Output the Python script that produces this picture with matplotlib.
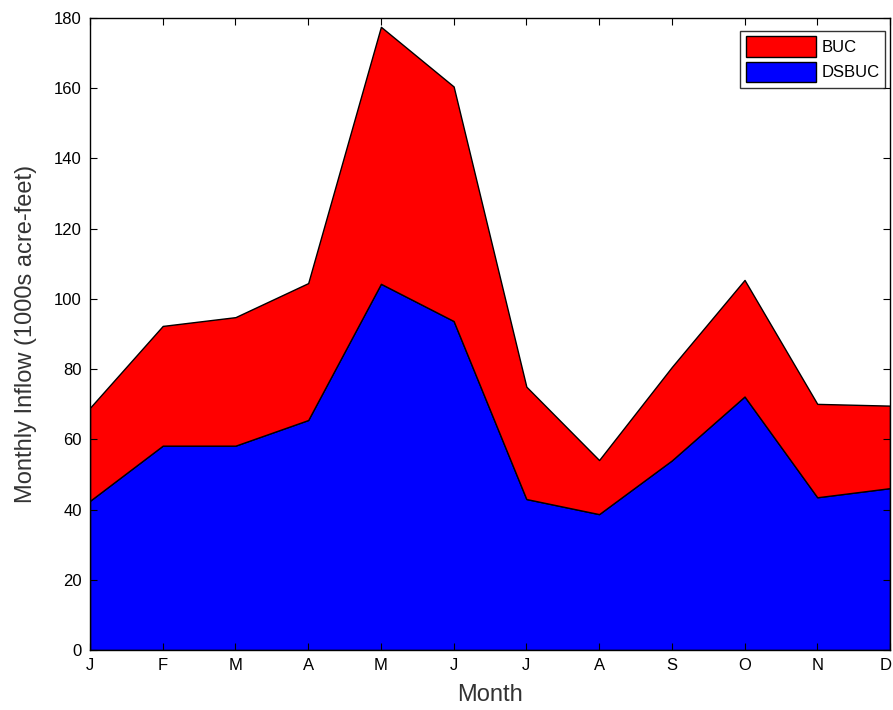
import matplotlib
matplotlib.use("Agg")
import matplotlib.pyplot as plt
import matplotlib.transforms as mtransforms
import numpy as np

months = ["J", "F", "M", "A", "M", "J", "J", "A", "S", "O", "N", "D"]
dsbuc = [42.5, 58.2, 58.2, 65.5, 104.3, 93.7, 43.0, 38.7, 54.0, 72.2, 43.5, 46.1]
buc = [26.5, 34.1, 36.6, 39.0, 73.2, 66.8, 32.0, 15.4, 26.6, 33.2, 26.6, 23.5]
yticks = [0, 20, 40, 60, 80, 100, 120, 140, 160, 180]

plt.rcParams['font.family'] = ['Liberation Sans', 'DejaVu Sans']

fig = plt.figure(figsize=(8.93, 7.10), dpi=100)
ax = fig.add_axes([90/893, 60/710, 800/893, 632/710])

x = np.arange(len(months))
polys = ax.stackplot(x, dsbuc, buc, colors=["#0000ff", "#ff0000"],
                     labels=["DSBUC", "BUC"], edgecolor="black", linewidth=1.0)

ax.set_xlim(0, len(months) - 1)
ax.set_ylim(0, 180)
ax.set_xticks(x)
ax.set_xticklabels(months)
ax.set_yticks(yticks)
ax.tick_params(direction="in", top=True, right=True, length=5, labelsize=12, pad=6)
ax.set_xlabel("Month", fontsize=17, color="#333333", labelpad=8)
ax.set_ylabel("Monthly Inflow (1000s acre-feet)", fontsize=17, color="#333333", labelpad=12)
for s in ax.spines.values():
    s.set_linewidth(1.0)

# keep the last tick label inside the canvas
last = ax.get_xticklabels()[-1]
last.set_transform(last.get_transform() + mtransforms.ScaledTranslation(-3/72, 0, fig.dpi_scale_trans))

handles, labels = ax.get_legend_handles_labels()
leg = ax.legend(handles[::-1], labels[::-1], loc="upper right", fontsize=12,
                frameon=True, fancybox=False, edgecolor="black",
                bbox_to_anchor=(0.994, 0.98), handlelength=4.2, handleheight=1.5,
                borderpad=0.35, labelspacing=0.3, handletextpad=0.3,
                borderaxespad=0.0)
leg.get_frame().set_linewidth(1.0)

fig.savefig("out.png", dpi=100)
